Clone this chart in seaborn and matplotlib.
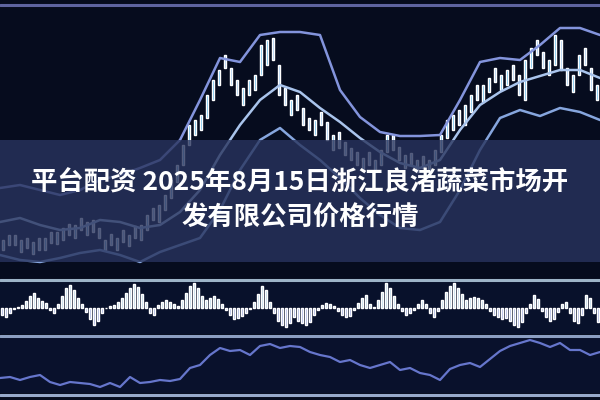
import numpy as np
import pandas as pd
import matplotlib.pyplot as plt
import seaborn as sns
from matplotlib.lines import Line2D

TITLE_1 = "平台配资 2025年8月15日浙江良渚蔬菜市场开"
TITLE_2 = "发有限公司价格行情"

# candles (price units, bigger = higher)
price_open = [30, 35, 45, 28, 42, 26, 42, 30, 48, 36, 40, 56, 42, 62, 45, 60, 52, 30, 46, 30,
              50, 34, 54, 40, 50, 72, 58, 70, 82, 98, 115, 135, 145, 150, 162, 180, 195, 225, 212, 200,
              175, 185, 190, 205, 215, 242, 215, 192, 165, 185, 172, 162, 145, 168, 158, 130, 148, 138, 132, 128,
              110, 128, 108, 115, 128, 145, 133, 112, 127, 108, 124, 108, 115, 128, 142, 150, 170, 155, 168, 195,
              178, 188, 212, 190, 195, 215, 205, 180, 212, 240, 228, 205, 215, 240, 212, 188, 205, 232, 212, 180]
price_close = [40, 45, 35, 40, 32, 38, 30, 42, 37, 48, 52, 45, 55, 50, 58, 48, 42, 40, 35, 42,
               38, 45, 42, 55, 65, 60, 75, 85, 100, 115, 135, 155, 160, 165, 185, 200, 210, 212, 195, 185,
               192, 200, 205, 235, 240, 220, 185, 175, 180, 170, 155, 150, 160, 155, 140, 145, 132, 125, 120, 115,
               122, 115, 120, 130, 145, 130, 120, 125, 115, 120, 112, 120, 130, 145, 160, 165, 155, 175, 185, 180,
               195, 202, 198, 205, 210, 200, 185, 220, 232, 225, 212, 220, 245, 210, 195, 205, 225, 215, 190, 195]

# Bollinger-style bands, sampled every 20 px across the width
band_upper = [92, 95, 90, 85, 90, 100, 105, 112, 120, 140, 180, 222, 218, 245, 248, 248,
              245, 190, 163, 148, 144, 144, 145, 180, 218, 222, 220, 235, 252, 252, 245]
band_mid = [58, 62, 55, 50, 52, 60, 58, 52, 55, 68, 90, 125, 155, 180, 195, 188,
            172, 158, 142, 128, 117, 112, 120, 150, 175, 188, 198, 204, 210, 210, 202]
band_lower = [25, 20, 18, 22, 27, 30, 25, 18, 28, 35, 42, 70, 110, 140, 152, 135,
              120, 102, 82, 65, 52, 50, 58, 90, 130, 162, 170, 164, 172, 168, 160]

# oscillator histogram
osc = [-8, -10, -6, -2, 1, 3, 7, 12, 15, 10, 7, 5, -3, -6, 4, 12, 20, 23, 18, 10,
       4, -5, -12, -18, -14, -6, -1, 2, 3, 6, 10, 15, 20, 24, 21, 14, 6, -6, -8, 3,
       6, 8, 6, 4, 2, 8, 15, 22, 25, 20, 12, 8, 10, 12, 9, 4, -3, -8, -12, -11,
       -9, -6, -2, 6, 14, 22, 18, 6, -6, -14, -18, -20, -16, -10, -14, -16, -18, -15, -8, -3,
       3, 5, 4, 2, -4, -8, -10, -9, -3, 5, 10, 13, 4, 1, 8, 16, 25, 20, 12, 4,
       -4, -8, -6, -3, 4, 8, 4, -6, -10, -4, 8, 16, 22, 25, 20, 14, 8, 10, 11, 10,
       8, 4, -4, -8, -10, -12, -11, -14, -18, -20, -15, -6, 4, 13, 9, -4, -10, -14, -12, -5,
       4, 6, -6, -14, -16, -8, 13, 10, -6, -15]

# bottom indicator line, sampled every 10 px
lower_line = [17, 18, 15, 18, 20, 13, 10, 13, 12, 11, 8, 12, 8, 18, 12, 13, 15, 14, 16, 27,
              30, 40, 47, 44, 45, 40, 49, 51, 47, 49, 48, 43, 40, 38, 33, 35, 30, 27, 30, 33,
              25, 27, 22, 20, 15, 26, 30, 32, 28, 36, 44, 49, 52, 55, 52, 48, 52, 45, 45, 40, 43]

sns.set_style("dark")
plt.rcParams["font.family"] = ["Noto Sans CJK SC", "DejaVu Sans"]

BG = "#060c1e"
fig = plt.figure(figsize=(6, 4), dpi=100, facecolor=BG)


def clean(ax, face):
    ax.set_facecolor(face)
    ax.set_xticks([])
    ax.set_yticks([])
    ax.grid(False)
    for s in ax.spines.values():
        s.set_visible(False)


# price panel (y 7..279 px)
ax = fig.add_axes([0, 0.3025, 1, 0.68])
clean(ax, BG)
n = len(price_close)
days = np.arange(n)
o = np.array(price_open)
c = np.array(price_close)
up = c >= o
ax.bar(days[up], (c - o)[up], bottom=o[up], width=0.32, color="#55b6ea", zorder=2)
ax.bar(days[~up], (o - c)[~up], bottom=c[~up], width=0.32, color="#9cc6f0", zorder=2)

bands = pd.DataFrame({
    "x": np.linspace(-0.5, n - 0.5, len(band_mid)),
    "upper": band_upper, "mid": band_mid, "lower": band_lower,
})
sns.lineplot(data=bands, x="x", y="upper", ax=ax, color="#8394dc", lw=1.8, zorder=3)
sns.lineplot(data=bands, x="x", y="mid", ax=ax, color="#a9c4ec", lw=1.8, zorder=3)
sns.lineplot(data=bands, x="x", y="lower", ax=ax, color="#86a6de", lw=1.8, zorder=3)
ax.set_xlim(-0.5, n - 0.5)
ax.set_ylim(1, 273)
ax.set_xlabel("")
ax.set_ylabel("")

# translucent title strip (y 140..262 px)
ax.axhspan(18, 140, color="#29345e", alpha=0.8, lw=0, zorder=4)

# oscillator panel (y 281..334 px)
ax2 = fig.add_axes([0, 0.165, 1, 0.1325])
clean(ax2, "#08112b")
osc_df = pd.DataFrame({"i": np.arange(len(osc)), "v": osc})
osc_df["sign"] = np.where(osc_df["v"] >= 0, "pos", "neg")
sns.barplot(data=osc_df, x="i", y="v", hue="sign", palette={"pos": "#a9d3ee", "neg": "#8d9ee6"},
            dodge=False, width=0.42, legend=False, ax=ax2)
ax2.set_xlim(-0.5, len(osc) - 0.5)
ax2.set_ylim(-27, 27)
ax2.set_xlabel("")
ax2.set_ylabel("")
ax2.set_xticks([])

# bottom line panel (y 338..393 px)
ax3 = fig.add_axes([0, 0.0175, 1, 0.1375])
clean(ax3, "#09112c")
sns.lineplot(x=np.linspace(0, 600, len(lower_line)), y=lower_line, ax=ax3, color="#6676cc", lw=1.6)
ax3.set_xlim(0, 600)
ax3.set_ylim(2, 57)

# panel separator lines
for yy, col, lw in [(5, "#5e64a0", 2.2), (279.5, "#9db4c8", 2.2), (336, "#8c9fc2", 2.2), (394.5, "#98aacb", 2.2)]:
    fig.add_artist(Line2D([0, 1], [1 - yy / 400, 1 - yy / 400], transform=fig.transFigure, color=col, lw=lw))

fig.text(0.5, 0.5425, TITLE_1, ha="center", va="center", color="white", fontsize=19, fontweight="bold")
fig.text(0.5, 0.455, TITLE_2, ha="center", va="center", color="white", fontsize=19, fontweight="bold")

plt.savefig("out.png", dpi=100, facecolor=BG)
